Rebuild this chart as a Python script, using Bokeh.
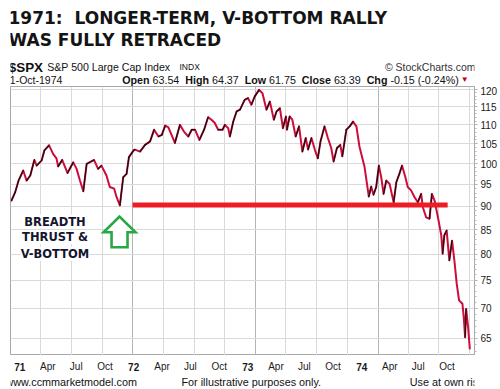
import pandas as pd
from bokeh.plotting import figure
from bokeh.layouts import column
from bokeh.models import FixedTicker, Label, Grid, BasicTickFormatter, ColumnDataSource, Range1d
from bokeh.embed import file_html
from bokeh.resources import INLINE

# ---------------- data ----------------
DATES = [
    "1971-01-04", "1971-01-15", "1971-01-25", "1971-02-08", "1971-02-18", "1971-03-01", "1971-03-13", "1971-03-20",
    "1971-04-04", "1971-04-12", "1971-04-26", "1971-05-08", "1971-05-18", "1971-05-23", "1971-06-04", "1971-06-20",
    "1971-07-07", "1971-07-17", "1971-07-27", "1971-08-06", "1971-08-16", "1971-09-07", "1971-09-19", "1971-09-29",
    "1971-10-14", "1971-10-24", "1971-11-06", "1971-11-13", "1971-11-23", "1971-12-03", "1971-12-13", "1971-12-20",
    "1972-01-03", "1972-01-07", "1972-01-22", "1972-02-06", "1972-02-21", "1972-03-04", "1972-03-17", "1972-03-27",
    "1972-04-06", "1972-04-15", "1972-04-25", "1972-05-05", "1972-05-20", "1972-06-01", "1972-06-14", "1972-06-24",
    "1972-07-04", "1972-07-17", "1972-07-31", "1972-08-12", "1972-08-22", "1972-09-01", "1972-09-11", "1972-09-24",
    "1972-10-01", "1972-10-11", "1972-10-16", "1972-10-26", "1972-11-05", "1972-11-15", "1972-11-29", "1972-12-09",
    "1972-12-19", "1972-12-29", "1973-01-11", "1973-01-21", "1973-02-02", "1973-02-12", "1973-02-24", "1973-03-04",
    "1973-03-14", "1973-03-23", "1973-04-01", "1973-04-04", "1973-04-12", "1973-04-20", "1973-04-30", "1973-05-10",
    "1973-05-20", "1973-05-30", "1973-06-06", "1973-06-16", "1973-06-26", "1973-07-05", "1973-07-13", "1973-07-25",
    "1973-08-04", "1973-08-14", "1973-08-21", "1973-08-31", "1973-09-10", "1973-09-16", "1973-09-28", "1973-10-08",
    "1973-10-18", "1973-10-28", "1973-11-06", "1973-11-21", "1973-12-04", "1973-12-11", "1973-12-18", "1973-12-26",
    "1974-01-03", "1974-01-10", "1974-01-17", "1974-01-25", "1974-02-04", "1974-02-16", "1974-02-24", "1974-03-05",
    "1974-03-13", "1974-03-23", "1974-03-30", "1974-04-09", "1974-04-19", "1974-04-29", "1974-05-09", "1974-05-14",
    "1974-05-24", "1974-06-03", "1974-06-10", "1974-06-18", "1974-06-28", "1974-07-08", "1974-07-12", "1974-07-17",
    "1974-07-24", "1974-08-01", "1974-08-09", "1974-08-16", "1974-08-23", "1974-08-30", "1974-09-09", "1974-09-13",
    "1974-09-17", "1974-09-20", "1974-09-26", "1974-10-01",
]
CLOSE = [
    91.3, 93.2, 95.9, 98.3, 95.9, 97.1, 100.9, 99.5,
    100.8, 103.3, 104.6, 102.4, 101.3, 99.3, 100.9, 97.7,
    100.3, 98.7, 95.9, 93.4, 99.9, 100.9, 98.7, 99.5,
    97.1, 94.4, 94.0, 92.1, 90.2, 96.7, 97.5, 101.6,
    103.3, 103.5, 103.0, 104.7, 105.6, 108.7, 106.9, 107.3,
    109.8, 109.4, 107.3, 105.2, 110.0, 108.2, 106.9, 108.7,
    108.7, 106.0, 108.7, 112.1, 111.4, 110.5, 108.7, 108.7,
    110.0, 109.1, 106.9, 110.9, 113.7, 114.2, 117.0, 117.5,
    115.6, 118.0, 119.9, 118.9, 114.2, 116.5, 111.4, 113.7,
    114.6, 109.1, 112.3, 108.7, 112.3, 111.4, 106.9, 109.6,
    103.0, 106.5, 103.5, 106.5, 103.5, 101.3, 105.6, 109.6,
    106.5, 103.9, 100.5, 103.9, 104.7, 101.8, 108.7, 109.6,
    110.9, 109.6, 104.3, 99.3, 92.2, 94.5, 92.6, 94.4,
    99.5, 96.7, 92.8, 95.9, 95.1, 90.9, 95.5, 97.5,
    99.5, 96.7, 94.4, 93.6, 92.1, 90.9, 92.8, 89.8,
    87.6, 87.3, 92.8, 91.3, 87.6, 83.8, 80.1, 83.8,
    84.8, 78.8, 82.7, 78.8, 74.4, 71.4, 70.8, 68.5,
    65.2, 69.9, 66.8, 63.4,
]

Y_TICKS = [65, 70, 75, 80, 85, 90, 95, 100, 105, 110, 115, 120]
X_TICK_DATES = ["1971-01-01", "1971-04-01", "1971-07-01", "1971-10-01",
                "1972-01-01", "1972-04-01", "1972-07-01", "1972-10-01",
                "1973-01-01", "1973-04-01", "1973-07-01", "1973-10-01",
                "1974-01-01", "1974-04-01", "1974-07-01", "1974-10-01"]
X_TICK_LABELS = ["71", "Apr", "Jul", "Oct", "72", "Apr", "Jul", "Oct",
                 "73", "Apr", "Jul", "Oct", "74", "Apr", "Jul", "Oct"]
X_START, X_END = "1971-01-01", "1974-10-15"
Y_LOW, Y_HIGH = 62.33, 120.9

LEVEL = 90.3
LEVEL_START, LEVEL_END = "1971-12-31", "1974-07-27"

TITLE_LINES = ["1971:\u00a0 LONGER-TERM, V-BOTTOM RALLY", "WAS FULLY RETRACED"]
SYMBOL = "$SPX"
NAME = "S&P 500 Large Cap Index"
EXCH = "INDX"
SOURCE = "\u00a9 StockCharts.com"
QUOTE_DATE = "1-Oct-1974"
QUOTE_LABELS = ["Open", "High", "Low", "Close", "Chg"]
QUOTE_VALUES = ["63.54", "64.37", "61.75", "63.39", "-0.15 (-0.24%)"]
NOTE_LINES = ["BREADTH", "THRUST &", "V-BOTTOM"]
FOOTER = ["www.ccmmarketmodel.com", "For illustrative purposes only.", "Use at own risk."]

RED = "#cc0d3a"
BLACK = "#111111"
SANS = "Liberation Sans"
HEAVY = "DejaVu Sans"

W = 500
TOP_H, MAIN_H, BOT_H = 86, 269, 34
FRAME_L, FRAME_R = 10, 25


def ms(d):
    return pd.Timestamp(d).value / 1e6


def clabel(fig, text, x, y, size, bold=False, color="#111111", font=SANS, align="left",
           baseline="alphabetic", xu="canvas", **kw):
    fig.add_layout(Label(x=x, y=y, x_units=xu, y_units="canvas", text=text, text_font=font,
                         text_font_size=f"{size}px", text_font_style="bold" if bold else "normal",
                         text_color=color, text_align=align, text_baseline=baseline, **kw))


def text_fig(height, x_range):
    f = figure(width=W, height=height, x_range=x_range, y_range=(0, 1),
               x_axis_location=None, y_axis_location=None, title=None,
               output_backend="svg", toolbar_location=None, min_border=0,
               min_border_left=0, min_border_right=0, min_border_top=0, min_border_bottom=0)
    f.grid.visible = False
    f.outline_line_color = None
    f.background_fill_color = "white"
    f.border_fill_color = "white"
    return f


# ---------------- top: title + quote header ----------------
top = text_fig(TOP_H, Range1d(0, W))
clabel(top, TITLE_LINES[0], 8, 17, 17, bold=True, font=HEAVY, color="#141414")
clabel(top, TITLE_LINES[1], 8, 39.5, 17, bold=True, font=HEAVY, color="#141414")
clabel(top, SYMBOL, 8.3, 66.7, 13.4, bold=True)
clabel(top, NAME, 46.7, 66.5, 10.6)
clabel(top, EXCH, 179, 66.5, 8.5)
clabel(top, SOURCE, 475, 66.5, 10.5, color="#333333", align="right")
clabel(top, QUOTE_DATE, 9.3, 79.5, 10.5)

W_REG = {**{c: 0.556 for c in "0123456789"}, ".": 0.278, " ": 0.278, "-": 0.333, "(": 0.333, ")": 0.333, "%": 0.889}
W_BOLD = {"O": 0.778, "p": 0.611, "e": 0.556, "n": 0.611, "H": 0.722, "i": 0.278, "g": 0.611, "h": 0.611,
          "L": 0.611, "o": 0.611, "w": 0.778, "C": 0.722, "l": 0.278, "s": 0.556}
QS = 10.7
qx = 121.7
for lab, val in zip(QUOTE_LABELS, QUOTE_VALUES):
    clabel(top, lab, qx, 79.5, QS, bold=True)
    qx += sum(W_BOLD[c] for c in lab) * QS + 0.278 * QS
    clabel(top, val, qx, 79.5, QS)
    qx += sum(W_REG[c] for c in val) * QS + 0.556 * QS
clabel(top, "\u25bc", qx - 0.556 * QS + 2, 79, 8, color="#c00018")

# ---------------- main chart ----------------
dt = pd.to_datetime(DATES)
p = figure(width=W, height=MAIN_H, x_axis_type="datetime", y_axis_type="log",
           x_axis_location=None, y_axis_location="right", title=None,
           x_range=(pd.Timestamp(X_START), pd.Timestamp(X_END)), y_range=(Y_LOW, Y_HIGH),
           output_backend="svg", toolbar_location=None,
           min_border_left=FRAME_L, min_border_right=FRAME_R, min_border_top=0, min_border_bottom=0)
p.background_fill_color = "white"
p.border_fill_color = "white"
p.outline_line_color = "#a8a8a8"
p.grid.visible = False

quarter_ticks = [ms(d) for d, l in zip(X_TICK_DATES, X_TICK_LABELS) if not l.isdigit()]
year_ticks = [ms(d) for d, l in zip(X_TICK_DATES, X_TICK_LABELS) if l.isdigit()]
p.add_layout(Grid(dimension=0, ticker=FixedTicker(ticks=quarter_ticks), grid_line_color="#dadada"))
p.add_layout(Grid(dimension=0, ticker=FixedTicker(ticks=year_ticks), grid_line_color="#b4b4b4"))
p.add_layout(Grid(dimension=1, ticker=FixedTicker(ticks=Y_TICKS), grid_line_color="#dadada"))

ax = p.yaxis[0]
ax.ticker = FixedTicker(ticks=Y_TICKS, minor_ticks=list(range(63, 121)))
ax.formatter = BasicTickFormatter()
ax.major_label_text_font = SANS
ax.major_label_text_font_size = "10px"
ax.major_label_text_color = "#222222"
ax.axis_line_color = "#a8a8a8"
ax.major_tick_line_color = "#a8a8a8"
ax.minor_tick_line_color = "#b8b8b8"
ax.major_tick_out = 3
ax.major_tick_in = 0
ax.minor_tick_out = 2
ax.minor_tick_in = 0
ax.major_label_standoff = 3

# price line: red base, black on rising stretches
p.line(dt, CLOSE, line_color=RED, line_width=2.0, line_join="round", line_cap="round")
up = [CLOSE[i + 1] >= CLOSE[i] for i in range(len(CLOSE) - 1)]
seg = ColumnDataSource(dict(
    x0=[dt[i] for i in range(len(up)) if up[i]],
    x1=[dt[i + 1] for i in range(len(up)) if up[i]],
    y0=[CLOSE[i] for i in range(len(up)) if up[i]],
    y1=[CLOSE[i + 1] for i in range(len(up)) if up[i]],
))
p.segment("x0", "y0", "x1", "y1", source=seg, line_color=BLACK, line_width=1.2, line_cap="round")

# retracement level
p.line([pd.Timestamp(LEVEL_START), pd.Timestamp(LEVEL_END)], [LEVEL, LEVEL],
       line_color="#ee1c25", line_width=5, line_cap="butt")

# green outline arrow under the V-bottom low
i_low = CLOSE.index(min(CLOSE[:60]))
day = 86400000.0
t0 = ms(DATES[i_low]) - day
low = CLOSE[i_low]
arr_x = [t0, t0 + 47.6 * day, t0 + 23.8 * day, t0 + 23.8 * day, t0 - 23.8 * day, t0 - 23.8 * day, t0 - 47.6 * day]
arr_y = [low * 0.973, low * 0.936, low * 0.936, low * 0.902, low * 0.902, low * 0.936, low * 0.936]
p.patch(arr_x, arr_y, fill_color="white", line_color="#27a844", line_width=2.6, line_join="miter")

# annotation text (main-canvas coordinates)
for line, yy in zip(NOTE_LINES, [135, 150.7, 167.3]):
    clabel(p, line, 54.5, yy, 11.5, bold=True, font=HEAVY, color="#15152e", align="center",
           baseline="middle", background_fill_color="white")

# ---------------- bottom: date labels + footer ----------------
x0, x1 = ms(X_START), ms(X_END)
mpp = (x1 - x0) / (W - FRAME_L - FRAME_R)
bot = text_fig(BOT_H, Range1d(x0 - FRAME_L * mpp, x1 + FRAME_R * mpp))
for d, l in zip(X_TICK_DATES, X_TICK_LABELS):
    clabel(bot, l, ms(d), 11, 10, bold=l.isdigit(), color="#1a1a1a", align="center", xu="data")
clabel(bot, FOOTER[0], 5, 26.5, 10.8)
clabel(bot, FOOTER[1], 181, 26.5, 10.8)
clabel(bot, FOOTER[2], 486, 26.5, 10.8, align="right")

layout = column(top, p, bot, spacing=0)
open("out.html", "w").write(file_html(layout, INLINE))
